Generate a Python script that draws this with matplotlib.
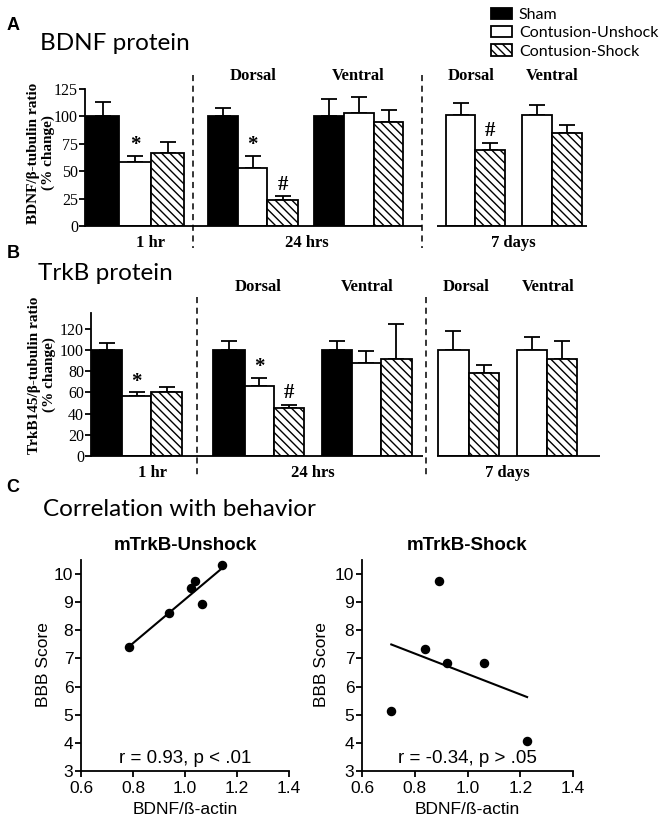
import numpy as np
import matplotlib
matplotlib.use('Agg')
import matplotlib.pyplot as plt
from matplotlib.patches import Patch
from matplotlib.lines import Line2D

# DATA
legend_labels = ['Sham', 'Contusion-Unshock', 'Contusion-Shock']
# bar order: 1 hr (S, U, C) | 24 hrs dorsal (S, U, C) | 24 hrs ventral (S, U, C)
#            | 7 days dorsal (U, C) | 7 days ventral (U, C)
bar_kind = [0, 1, 2, 0, 1, 2, 0, 1, 2, 1, 2, 1, 2]
bdnf_mean = [100, 58, 67, 100, 53, 24, 100, 103, 95, 101, 69, 101, 85]
bdnf_err = [13, 6, 10, 8, 11, 3, 15.5, 15, 11, 11, 7, 9.5, 7]
bdnf_sig = ['', '*', '', '', '*', '#', '', '', '', '', '#', '', '']
trkb_mean = [100, 57, 60, 100, 66.5, 45.5, 100, 88, 92, 100, 78, 100, 92]
trkb_err = [7, 3, 5, 9, 7.5, 3, 9, 11, 32.5, 18, 8, 12, 16.5]
trkb_sig = ['', '*', '', '', '*', '#', '', '', '', '', '', '', '']
time_labels = ['1 hr', '24 hrs', '7 days']
site_labels = ['Dorsal', 'Ventral', 'Dorsal', 'Ventral']

unshock_x = [0.786, 0.94, 1.022, 1.04, 1.064, 1.141]
unshock_y = [7.42, 8.60, 9.51, 9.76, 8.92, 10.33]
shock_x = [0.711, 0.840, 0.891, 0.922, 1.064, 1.226]
shock_y = [5.14, 7.32, 9.75, 6.83, 6.83, 4.08]
unshock_stat = 'r = 0.93, p < .01'
shock_stat = 'r = -0.34, p > .05'

# LAYOUT (pixels of a 664x825 canvas)
W, H = 664, 825
a_lefts = [86, 119, 151, 208, 238, 267, 314, 344, 374, 446, 475, 522, 552]
a_widths = [33, 32, 33, 30, 29, 31, 30, 30, 29, 29, 30, 30, 30]
b_lefts = [92, 122, 151, 213, 245, 274, 322, 352, 381, 438, 469, 517, 547]
b_widths = [30, 29, 31, 32, 29, 30, 30, 29, 31, 31, 30, 30, 30]

SERIF = 'Liberation Serif'
SANS = 'Liberation Sans'
TITLE = 'Lato'

plt.rcParams['hatch.linewidth'] = 1.0
faces = ['black', 'white', 'white']
hatches = [None, None, '\\\\\\\\']

fig = plt.figure(figsize=(W / 100, H / 100), dpi=100)


def fx(x):
    return x / W


def fy(y):
    return 1 - y / H


def ax_px(left, right, top, bottom):
    return fig.add_axes([left / W, 1 - bottom / H, (right - left) / W, (bottom - top) / H])


def vdash(x, y0, y1):
    fig.add_artist(Line2D([fx(x), fx(x)], [fy(y0), fy(y1)], transform=fig.transFigure,
                          color='black', lw=1.1, dashes=(4, 3)))


def bar_panel(ax, lefts, widths, means, errs, sig, ymax, yticks, xr, gap):
    for left, w, m, e, k, s in zip(lefts, widths, means, errs, bar_kind, sig):
        ax.bar(left, m, width=w, align='edge', color=faces[k], edgecolor='black',
               linewidth=1.3, hatch=hatches[k], zorder=2)
        ax.errorbar(left + w / 2, m, yerr=[[0], [e]], fmt='none', ecolor='black',
                    elinewidth=1.3, capsize=5.5, capthick=1.3, zorder=1)
        if s:
            ax.annotate(s, (left + w / 2, m + e), xytext=(0, 8.5 if s == '#' else 7.5),
                        textcoords='offset points', ha='center', va='center',
                        fontsize=15, family=SERIF, fontweight='bold')
    xl = ax.get_position().x0 * W
    ax.set_xlim(xl, xr)
    ax.set_ylim(0, ymax)
    for sp in ['top', 'right', 'bottom']:
        ax.spines[sp].set_visible(False)
    ax.spines['left'].set_linewidth(1.3)
    ax.plot([xl, gap[0]], [0, 0], color='black', lw=1.3, clip_on=False, solid_capstyle='butt')
    ax.plot([gap[1], xr], [0, 0], color='black', lw=1.3, clip_on=False, solid_capstyle='butt')
    ax.set_xticks([])
    ax.set_yticks(yticks)
    ax.tick_params(axis='y', direction='out', length=4, width=1.3, labelsize=11.5, pad=1)
    for lab in ax.get_yticklabels():
        lab.set_fontfamily(SERIF)


# Panel A
axA = ax_px(85, 587, 226 - 137, 226)
bar_panel(axA, a_lefts, a_widths, bdnf_mean, bdnf_err, bdnf_sig, 125,
          [0, 25, 50, 75, 100, 125], 587, (422, 437))
fig.text(fx(13), fy(25), 'A', fontsize=13, fontweight='bold', family=SANS, ha='center', va='center')
fig.text(fx(40), fy(44), 'BDNF protein', fontsize=17.5, family=TITLE, ha='left', va='center')
fig.text(fx(41), fy(153), 'BDNF/\u03b2-tubulin ratio\n(% change)', rotation=90, fontsize=11,
         fontweight='bold', family=SERIF, ha='center', va='center', linespacing=1.2)
for x, t in zip([150, 307, 513], time_labels):
    fig.text(fx(x), fy(243), t, fontsize=12, fontweight='bold', family=SERIF, ha='center', va='center')
for x, t in zip([253, 358, 471, 552], site_labels):
    fig.text(fx(x), fy(76), t, fontsize=12, fontweight='bold', family=SERIF, ha='center', va='center')
vdash(193, 75, 248)
vdash(422, 75, 248)

# legend
handles = [Patch(facecolor=faces[k], edgecolor='black', linewidth=1.3, hatch=hatches[k]) for k in range(3)]
fig.legend(handles, legend_labels, loc='upper left', bbox_to_anchor=(fx(491), fy(8)),
           frameon=False, handlelength=1.3, handleheight=0.7, handletextpad=0.45,
           labelspacing=0.25, borderpad=0, borderaxespad=0,
           prop={'family': TITLE, 'size': 11.5})

# Panel B
axB = ax_px(91, 600, 313, 456)
bar_panel(axB, b_lefts, b_widths, trkb_mean, trkb_err, trkb_sig, 135,
          [0, 20, 40, 60, 80, 100, 120], 600, (423, 437))
fig.text(fx(13), fy(254), 'B', fontsize=13, fontweight='bold', family=SANS, ha='center', va='center')
fig.text(fx(38), fy(273), 'TrkB protein', fontsize=17.5, family=TITLE, ha='left', va='center')
fig.text(fx(42), fy(375), 'TrkB145/\u03b2-tubulin ratio\n(% change)', rotation=90, fontsize=11,
         fontweight='bold', family=SERIF, ha='center', va='center', linespacing=1.2)
for x, t in zip([152, 313, 507], time_labels):
    fig.text(fx(x), fy(473), t, fontsize=12, fontweight='bold', family=SERIF, ha='center', va='center')
for x, t in zip([258, 367, 466, 548], site_labels):
    fig.text(fx(x), fy(287), t, fontsize=12, fontweight='bold', family=SERIF, ha='center', va='center')
vdash(197, 297, 478)
vdash(426, 297, 478)

# Panel C
fig.text(fx(13), fy(488), 'C', fontsize=13, fontweight='bold', family=SANS, ha='center', va='center')
fig.text(fx(43), fy(510), 'Correlation with behavior', fontsize=17.5, family=TITLE, ha='left', va='center')


def scatter_panel(ax, xs, ys, title, stat, cx, ylab_x):
    ax.scatter(xs, ys, s=34, color='black', zorder=3, clip_on=False)
    slope, icpt = np.polyfit(xs, ys, 1)
    xx = np.array([min(xs), max(xs)])
    ax.plot(xx, slope * xx + icpt, color='black', lw=1.5)
    ax.set_xlim(0.6, 1.4)
    ax.set_ylim(3, 10.5)
    ax.set_xticks([0.6, 0.8, 1.0, 1.2, 1.4])
    ax.set_xticklabels(['0.6', '0.8', '1.0', '1.2', '1.4'])
    ax.set_yticks(range(3, 11))
    for sp in ['top', 'right']:
        ax.spines[sp].set_visible(False)
    for sp in ['left', 'bottom']:
        ax.spines[sp].set_linewidth(1.3)
    ax.tick_params(direction='out', length=4, width=1.3, labelsize=12.5)
    ax.tick_params(axis='x', pad=3)
    ax.tick_params(axis='y', pad=1.5)
    for lab in ax.get_xticklabels() + ax.get_yticklabels():
        lab.set_fontfamily(SANS)
    fig.text(fx(cx), fy(545), title, fontsize=13.5, fontweight='bold', family=SANS, ha='center', va='center')
    fig.text(fx(ylab_x), fy(665), 'BBB Score', rotation=90, fontsize=12.5, family=SANS, ha='center', va='center')
    fig.text(fx(cx), fy(809), 'BDNF/\u00df-actin', fontsize=12.5, family=SANS, ha='center', va='center')
    ax.text(1.0, 3.45, stat, fontsize=13.5, family=SANS, ha='center', va='center')


axL = ax_px(81, 289, 560, 771)
scatter_panel(axL, unshock_x, unshock_y, 'mTrkB-Unshock', unshock_stat, 185, 43)
axR = ax_px(362, 573, 560, 771)
scatter_panel(axR, shock_x, shock_y, 'mTrkB-Shock', shock_stat, 467, 322)

fig.savefig('out.png', dpi=100)
